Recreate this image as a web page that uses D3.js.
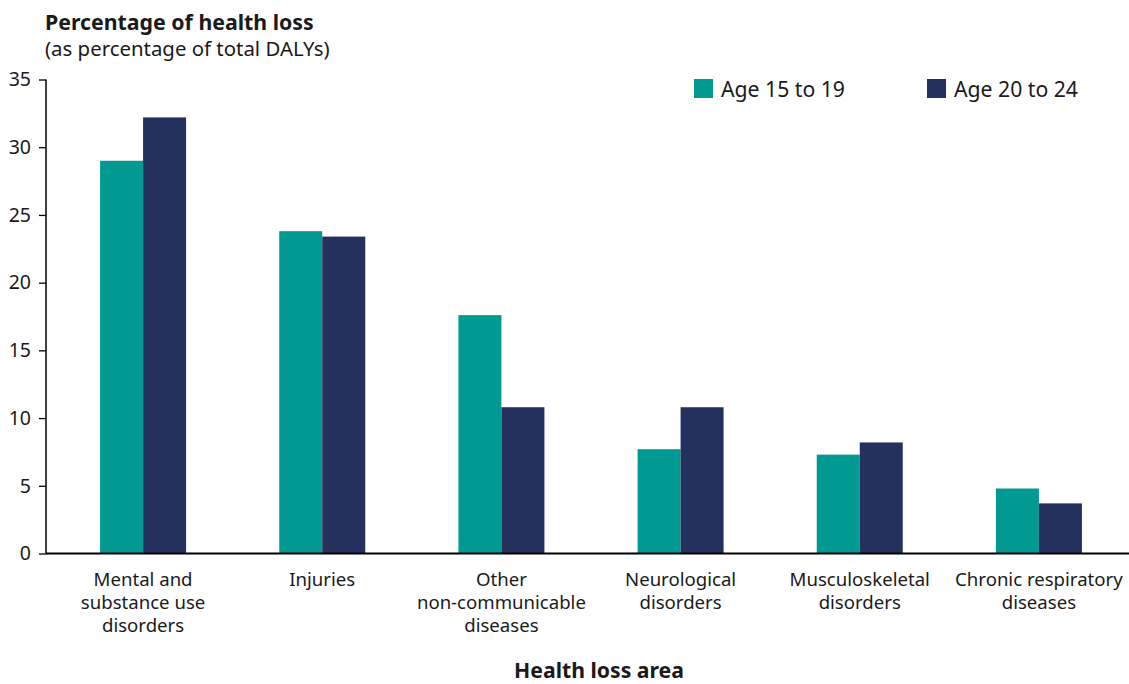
<!DOCTYPE html>
<html><head><meta charset="utf-8">
<script src="https://cdn.jsdelivr.net/npm/d3@7"></script>
<style>
body{margin:0;background:#fff;}
text{font-family:"Noto Sans",sans-serif;fill:#1a1a1a;}
</style></head><body>
<svg id="c" width="1129" height="684"></svg>
<script>
const categories = [
  ["Mental and","substance use","disorders"],
  ["Injuries"],
  ["Other","non-communicable","diseases"],
  ["Neurological","disorders"],
  ["Musculoskeletal","disorders"],
  ["Chronic respiratory","diseases"]
];
const seriesNames = ["Age 15 to 19","Age 20 to 24"];
const age15to19 = [29.0, 23.8, 17.6, 7.7, 7.3, 4.8];
const age20to24 = [32.2, 23.4, 10.8, 10.8, 8.2, 3.7];
const yTicks = [0,5,10,15,20,25,30,35];
const colors = ["#009a93","#24305e"];

const svg = d3.select("#c");
const x = d3.scaleBand().domain(d3.range(categories.length)).range([53.5,1128.5]).paddingInner(0.52).paddingOuter(0.26);
const x1 = d3.scaleBand().domain([0,1]).range([0,x.bandwidth()]);
const y = d3.scaleLinear().domain([0,35]).range([553.5,79.5]);

const series = [age15to19, age20to24];
series.forEach((vals,si)=>{
  svg.append("g").selectAll("rect").data(vals).join("rect")
    .attr("x",(d,i)=>x(i)+x1(si))
    .attr("width",x1.bandwidth())
    .attr("y",d=>y(d))
    .attr("height",d=>y(0)-y(d))
    .attr("fill",colors[si]);
});

// y axis
const ya = svg.append("g").attr("transform","translate(46,0)")
  .call(d3.axisLeft(y).tickValues(yTicks).tickSize(7).tickPadding(8));
ya.select(".domain").attr("stroke","#000").attr("stroke-width",1.5).attr("d","M0,79.5V553.5");
ya.selectAll(".tick line").attr("stroke","#000").attr("stroke-width",1.3);
ya.selectAll(".tick text").attr("font-size",19.5).attr("font-family","Noto Sans").attr("fill","#1a1a1a");

// x axis line
svg.append("line").attr("x1",46).attr("x2",1129).attr("y1",553.5).attr("y2",553.5)
  .attr("stroke","#000").attr("stroke-width",2);

// x labels
const xl = svg.append("g").selectAll("text").data(categories).join("text")
  .attr("x",(d,i)=>x(i)+x.bandwidth()/2)
  .attr("y",585.5)
  .attr("text-anchor","middle")
  .attr("font-size",18.6);
xl.selectAll("tspan").data(d=>d).join("tspan")
  .attr("x",function(){return d3.select(this.parentNode).attr("x");})
  .attr("dy",(d,i)=>i===0?0:23)
  .text(d=>d);

// titles
svg.append("text").attr("x",45).attr("y",30).attr("font-size",21.3).attr("font-weight","bold").text("Percentage of health loss");
svg.append("text").attr("x",45).attr("y",56).attr("font-size",20.4).text("(as percentage of total DALYs)");
svg.append("text").attr("x",599).attr("y",678).attr("text-anchor","middle").attr("font-size",21.2).attr("font-weight","bold").text("Health loss area");

// legend
const legX = [694, 927];
seriesNames.forEach((n,i)=>{
  svg.append("rect").attr("x",legX[i]).attr("y",79).attr("width",19).attr("height",19).attr("fill",colors[i]);
  svg.append("text").attr("x",legX[i]+27).attr("y",97).attr("font-size",21.2).text(n);
});
</script></body></html>
